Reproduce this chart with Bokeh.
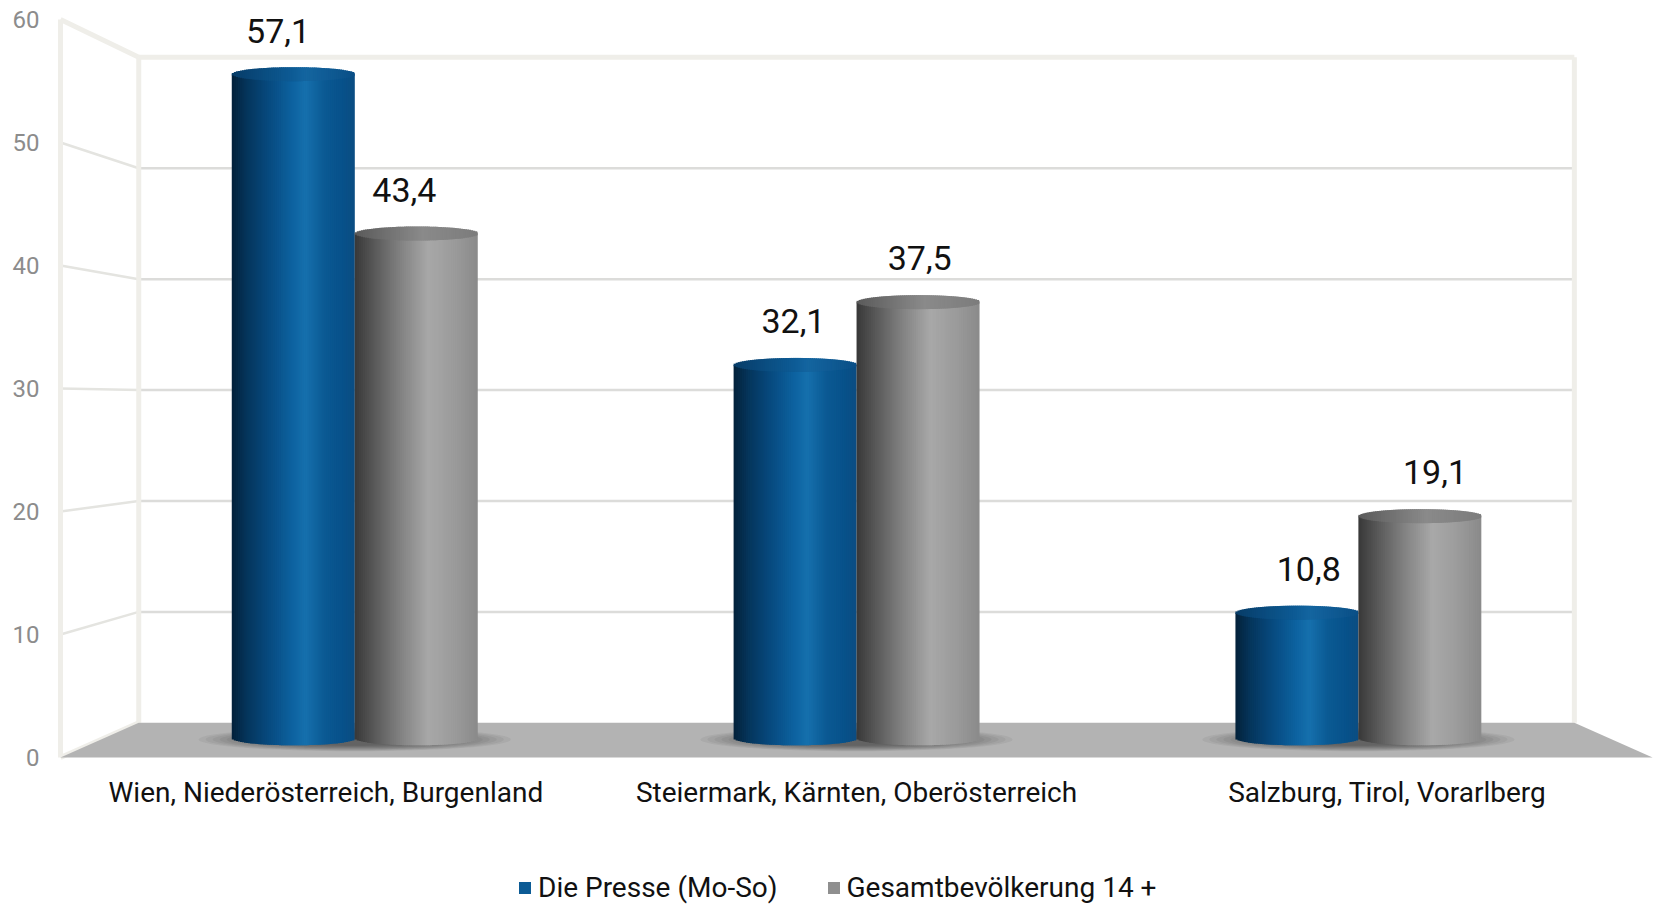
import numpy as np
from bokeh.plotting import figure
from bokeh.models import Range1d, FixedTicker, Legend, LegendItem
from bokeh.embed import file_html
from bokeh.resources import INLINE
from bokeh.core.properties import value

# ---- data -------------------------------------------------------------
categories = ["Wien, Niederösterreich, Burgenland",
              "Steiermark, Kärnten, Oberösterreich",
              "Salzburg, Tirol, Vorarlberg"]
series_names = ["Die Presse (Mo-So)", "Gesamtbevölkerung 14 +"]
presse = [57.1, 32.1, 10.8]
gesamt = [43.4, 37.5, 19.1]
y_ticks = [0, 10, 20, 30, 40, 50, 60]
value_labels_presse = ["57,1", "32,1", "10,8"]
value_labels_gesamt = ["43,4", "37,5", "19,1"]

# ---- page / projection settings --------------------------------------
W, H = 1654, 904
FRAME_LEFT = 48
PX_PER_CAT = 530.7      # pixels per category unit on the front plane
FRONT_X_PX = 60         # pixel column of the front axis
PX_PER_VAL = 12.3       # pixels per value unit on the front plane
FRONT_ZERO_PX = 757     # pixel row of value 0 on the front plane

N_CAT = len(categories)
Y_TOP = y_ticks[-1]
VX = N_CAT / 2.0                          # vanishing point (category units)
VY = (FRONT_ZERO_PX - 404) / PX_PER_VAL   # vanishing point (value units)
S_BACK = 0.9017                           # depth scale of the back wall
S_BAR = 0.9456                            # depth scale of the cylinders
S_LABEL = 0.971                           # depth scale of the value labels
BAR_W = 0.245                             # cylinder width (category units)
CAP_B = 0.57                              # ellipse half height (value units)
CAT_LABEL_Y = (FRONT_ZERO_PX - 791.5) / PX_PER_VAL

FONT = "Roboto"


def proj(u, v, s):
    u = np.asarray(u, dtype=float)
    v = np.asarray(v, dtype=float)
    return VX + s * (u - VX), VY + s * (v - VY)


def hex_to_rgb(h):
    h = h.lstrip("#")
    return np.array([int(h[i:i + 2], 16) for i in (0, 2, 4)], dtype=float)


def gradient(stops, t):
    pos = [q for q, _ in stops]
    cols = [hex_to_rgb(c) for _, c in stops]
    out = []
    for tt in t:
        rgb = [np.interp(tt, pos, [c[k] for c in cols]) for k in range(3)]
        out.append("#%02x%02x%02x" % tuple(int(round(x)) for x in rgb))
    return out


BLUE_BODY = [(0.0, "#03213a"), (0.12, "#05355b"), (0.3, "#074a7f"),
             (0.5, "#0d63a1"), (0.6, "#1670ad"), (0.75, "#0b5a94"),
             (0.9, "#07518a"), (1.0, "#0b4d82")]
BLUE_CAP = [(0.0, "#073c68"), (0.5, "#0d5c96"), (0.6, "#1465a0"),
            (1.0, "#0a4f86")]
GREY_BODY = [(0.0, "#383838"), (0.15, "#575757"), (0.35, "#7e7e7e"),
             (0.6, "#a8a8a8"), (0.8, "#9c9c9c"), (1.0, "#8a8a8a")]
GREY_CAP = [(0.0, "#5a5a5a"), (0.55, "#8a8a8a"), (1.0, "#7c7c7c")]

p = figure(width=W, height=H, output_backend="svg", toolbar_location=None,
           x_range=Range1d((FRAME_LEFT - FRONT_X_PX) / PX_PER_CAT,
                           (W - FRONT_X_PX) / PX_PER_CAT),
           y_range=Range1d((FRONT_ZERO_PX - H) / PX_PER_VAL,
                           FRONT_ZERO_PX / PX_PER_VAL),
           x_axis_location=None,
           min_border_left=FRAME_LEFT, min_border_right=0, min_border_top=0,
           min_border_bottom=0)
p.outline_line_color = None
p.xgrid.visible = False
p.ygrid.visible = False
p.background_fill_color = "white"
p.border_fill_color = "white"

# ---- walls -------------------------------------------------------------
FRAME_COL = "#efeee9"
GRID_COL = "#dcdcda"
inner = y_ticks[1:-1]

# back wall grid lines
bx0, by = proj(np.zeros(len(inner)), inner, S_BACK)
bx1, _ = proj(np.full(len(inner), N_CAT), inner, S_BACK)
p.segment(x0=bx0, y0=by, x1=bx1, y1=by, line_color=GRID_COL, line_width=2.5)

# side wall grid lines
fx, fy = proj(np.zeros(len(inner)), inner, 1.0)
p.segment(x0=fx, y0=fy, x1=bx0, y1=by, line_color="#e4e4e0", line_width=2.5)

# wall outlines
edges = [((0, 0, 1.0), (0, Y_TOP, 1.0)),
         ((0, 0, S_BACK), (0, Y_TOP, S_BACK)),
         ((N_CAT, 0, S_BACK), (N_CAT, Y_TOP, S_BACK)),
         ((0, Y_TOP, S_BACK), (N_CAT, Y_TOP, S_BACK)),
         ((0, Y_TOP, 1.0), (0, Y_TOP, S_BACK)),
         ((0, 0, 1.0), (0, 0, S_BACK))]
ex0, ey0, ex1, ey1 = [], [], [], []
for (u0, v0, s0), (u1, v1, s1) in edges:
    a = proj(u0, v0, s0)
    b = proj(u1, v1, s1)
    ex0.append(float(a[0])); ey0.append(float(a[1]))
    ex1.append(float(b[0])); ey1.append(float(b[1]))
p.segment(x0=ex0, y0=ey0, x1=ex1, y1=ey1, line_color=FRAME_COL, line_width=5)

# ---- floor -------------------------------------------------------------
fl_u = [0, N_CAT, N_CAT, 0]
fl_s = [1.0, 1.0, S_BACK, S_BACK]
fl_x = [float(proj(u, 0, s)[0]) for u, s in zip(fl_u, fl_s)]
fl_y = [float(proj(u, 0, s)[1]) for u, s in zip(fl_u, fl_s)]
p.patch(fl_x, fl_y, fill_color="#b3b3b3", line_color=None)

# ---- floor shadows (soft, stacked translucent ellipses) --------------------
for i in range(N_CAT):
    cx, cy = proj(i + 0.5, 0, S_BAR)
    for k in range(12):
        f = 1.0 - k * 0.045
        p.ellipse(x=[float(cx)], y=[float(cy) - 0.1],
                  width=[2 * S_BAR * BAR_W * 1.27 * f],
                  height=[1.9 * f],
                  fill_color="#2a2a2a", fill_alpha=0.06, line_color=None)

# ---- cylinders ------------------------------------------------------------
N_STRIP = 60


def cylinder(u_center, val, body_stops, cap_stops):
    cx, fb = proj(u_center, 0, S_BAR)
    _, ft = proj(u_center, val, S_BAR)
    a = S_BAR * BAR_W / 2
    edges_x = np.linspace(cx - a, cx + a, N_STRIP + 1)
    left = edges_x[:-1]
    dx = edges_x[1] - edges_x[0]
    right = np.minimum(edges_x[1:] + 0.8 * dx, cx + a)
    mid = left + dx / 2
    q = np.clip((mid - cx) / a, -1, 1)
    h = CAP_B * np.sqrt(1 - q ** 2)
    t = (mid - (cx - a)) / (2 * a)
    body = gradient(body_stops, t)
    cap = gradient(cap_stops, t)
    r = p.quad(left=left, right=right, bottom=fb - h, top=np.full(N_STRIP, ft),
               fill_color=body, line_color=None)
    p.quad(left=left, right=right, bottom=ft - h, top=ft + h,
           fill_color=cap, line_color=None)
    return r


bar_renderers = [[], []]
for i in range(N_CAT):
    bar_renderers[0].append(cylinder(i + 0.5 - BAR_W / 2, presse[i],
                                     BLUE_BODY, BLUE_CAP))
    bar_renderers[1].append(cylinder(i + 0.5 + BAR_W / 2, gesamt[i],
                                     GREY_BODY, GREY_CAP))

# ---- value labels ---------------------------------------------------------
LABEL_GAP = 3.55
for vals, texts, sign in ((presse, value_labels_presse, -1),
                          (gesamt, value_labels_gesamt, 1)):
    uc = np.arange(N_CAT) + 0.5 + sign * BAR_W / 2
    lx, _ = proj(uc, 0, S_LABEL)
    _, ty = proj(uc, vals, S_BAR)
    p.text(x=lx, y=ty + LABEL_GAP, text=texts, text_align="center",
           text_baseline="middle", text_font=value(FONT),
           text_font_size="34px", text_color="#111111")

# ---- category labels (front edge of the floor) -------------------------------
p.text(x=np.arange(N_CAT) + 0.5, y=np.full(N_CAT, CAT_LABEL_Y), text=categories,
       text_align="center", text_baseline="alphabetic", text_font=value(FONT),
       text_font_size="28px", text_color="#111111")

# ---- value axis -------------------------------------------------------------
yax = p.yaxis[0]
yax.ticker = FixedTicker(ticks=y_ticks)
yax.axis_line_color = None
yax.major_tick_line_color = None
yax.minor_tick_line_color = None
yax.major_tick_out = 0
yax.major_tick_in = 0
yax.major_label_standoff = 9
yax.major_label_text_font = FONT
yax.major_label_text_font_size = "24px"
yax.major_label_text_color = "#8c8c8c"

# ---- legend ------------------------------------------------------------------
legend = Legend(items=[LegendItem(label=series_names[0],
                                  renderers=[bar_renderers[0][0]], index=44),
                       LegendItem(label=series_names[1],
                                  renderers=[bar_renderers[1][0]], index=56)],
                orientation="horizontal", location=(469, 0),
                glyph_width=15, glyph_height=15, label_standoff=6, spacing=48,
                label_text_font=FONT, label_text_font_size="28px",
                label_text_color="#111111",
                border_line_alpha=0, background_fill_alpha=0,
                padding=0, margin=0)
p.add_layout(legend)

open("out.html", "w").write(file_html(p, INLINE))
